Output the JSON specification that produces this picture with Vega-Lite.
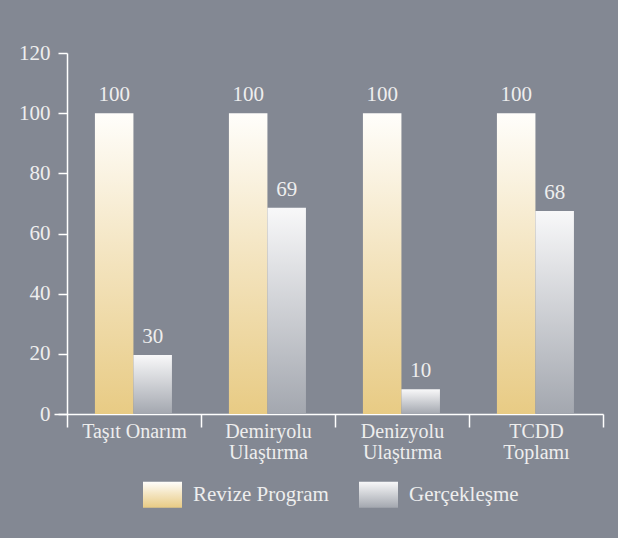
{
  "$schema": "https://vega.github.io/schema/vega-lite/v6.json",
  "width": 549,
  "height": 361,
  "autosize": "none",
  "padding": {"left": 54, "top": 53, "right": 15, "bottom": 124},
  "background": "#838893",
  "data": {
    "values": [
      {"kategori": "Taşıt Onarım", "seri": "Revize Program", "deger": 100, "etiket": "100"},
      {"kategori": "Taşıt Onarım", "seri": "Gerçekleşme", "deger": 19.6, "etiket": "30"},
      {"kategori": "Demiryolu|Ulaştırma", "seri": "Revize Program", "deger": 100, "etiket": "100"},
      {"kategori": "Demiryolu|Ulaştırma", "seri": "Gerçekleşme", "deger": 68.6, "etiket": "69"},
      {"kategori": "Denizyolu|Ulaştırma", "seri": "Revize Program", "deger": 100, "etiket": "100"},
      {"kategori": "Denizyolu|Ulaştırma", "seri": "Gerçekleşme", "deger": 8.2, "etiket": "10"},
      {"kategori": "TCDD|Toplamı", "seri": "Revize Program", "deger": 100, "etiket": "100"},
      {"kategori": "TCDD|Toplamı", "seri": "Gerçekleşme", "deger": 67.5, "etiket": "68"}
    ]
  },
  "encoding": {
    "x": {
      "field": "kategori",
      "type": "nominal",
      "sort": null,
      "scale": {"paddingInner": 0, "paddingOuter": 0.0485, "align": 1},
      "axis": {
        "title": null,
        "labelAngle": 0,
        "tickBand": "extent",
        "tickSize": 13,
        "labelPadding": -6,
        "labelFontSize": 20,
        "labelLineHeight": 21,
        "labelExpr": "datum.value ? split(datum.value, '|') : ''"
      }
    },
    "xOffset": {
      "field": "seri",
      "type": "nominal",
      "sort": null,
      "scale": {"domain": ["Revize Program", "Gerçekleşme"], "paddingInner": 0, "paddingOuter": 0.74, "align": 0.49}
    },
    "y": {
      "field": "deger",
      "type": "quantitative",
      "scale": {"domain": [0, 120], "nice": false},
      "axis": {
        "title": null,
        "values": [0, 20, 40, 60, 80, 100, 120],
        "grid": false,
        "offset": -13,
        "tickSize": 9,
        "labelPadding": 8
      }
    }
  },
  "layer": [
    {
      "mark": {"type": "point", "filled": true, "opacity": 0},
      "encoding": {
        "shape": {
          "field": "seri",
          "type": "nominal",
          "sort": null,
          "scale": {
            "domain": ["Revize Program", "Gerçekleşme"],
            "range": ["M-1,-0.667H1V0.667H-1Z", "M-1,-0.667H1V0.667H-1Z"]
          },
          "legend": {
            "title": null,
            "orient": "none",
            "legendX": 89,
            "legendY": 422,
            "direction": "horizontal",
            "symbolSize": 1521,
            "symbolStrokeWidth": 0,
            "symbolOpacity": 1,
            "labelFontSize": 21,
            "labelOffset": 11,
            "columnPadding": 30,
            "labelColor": "#eeeeee",
            "labelFont": "Liberation Serif",
            "encoding": {
              "symbols": {
                "opacity": {"value": 1},
                "fill": {
                  "condition": {"test": "datum.value === 'Revize Program'", "value": {"gradient": "linear", "x1": 0, "y1": 1, "x2": 0, "y2": 0, "stops": [{"offset": 0, "color": "#e8cb84"}, {"offset": 0.5, "color": "#f3e3bd"}, {"offset": 1, "color": "#fffefb"}]}},
                  "value": {"gradient": "linear", "x1": 0, "y1": 1, "x2": 0, "y2": 0, "stops": [{"offset": 0, "color": "#a3a7af"}, {"offset": 1, "color": "#f8f8f9"}]}
                }
              }
            }
          }
        }
      }
    },
    {
      "transform": [{"filter": "datum.seri === 'Revize Program'"}],
      "mark": {
        "type": "bar",
        "strokeWidth": 0,
        "fill": {"gradient": "linear", "x1": 0, "y1": 1, "x2": 0, "y2": 0, "stops": [{"offset": 0, "color": "#e8cb84"}, {"offset": 0.5, "color": "#f3e3bd"}, {"offset": 1, "color": "#fffefb"}]}
      }
    },
    {
      "transform": [{"filter": "datum.seri === 'Gerçekleşme'"}],
      "mark": {
        "type": "bar",
        "strokeWidth": 0,
        "fill": {"gradient": "linear", "x1": 0, "y1": 1, "x2": 0, "y2": 0, "stops": [{"offset": 0, "color": "#a3a7af"}, {"offset": 1, "color": "#f8f8f9"}]}
      }
    },
    {
      "mark": {"type": "text", "dy": -12, "baseline": "alphabetic", "font": "Liberation Serif", "fontSize": 21, "color": "#eeeeee"},
      "encoding": {"text": {"field": "etiket"}}
    }
  ],
  "config": {
    "view": {"stroke": null},
    "axis": {
      "domainColor": "#ffffff",
      "tickColor": "#ffffff",
      "domainWidth": 1.5,
      "tickWidth": 1.5,
      "labelColor": "#eeeeee",
      "labelFont": "Liberation Serif",
      "labelFontSize": 21
    }
  }
}
